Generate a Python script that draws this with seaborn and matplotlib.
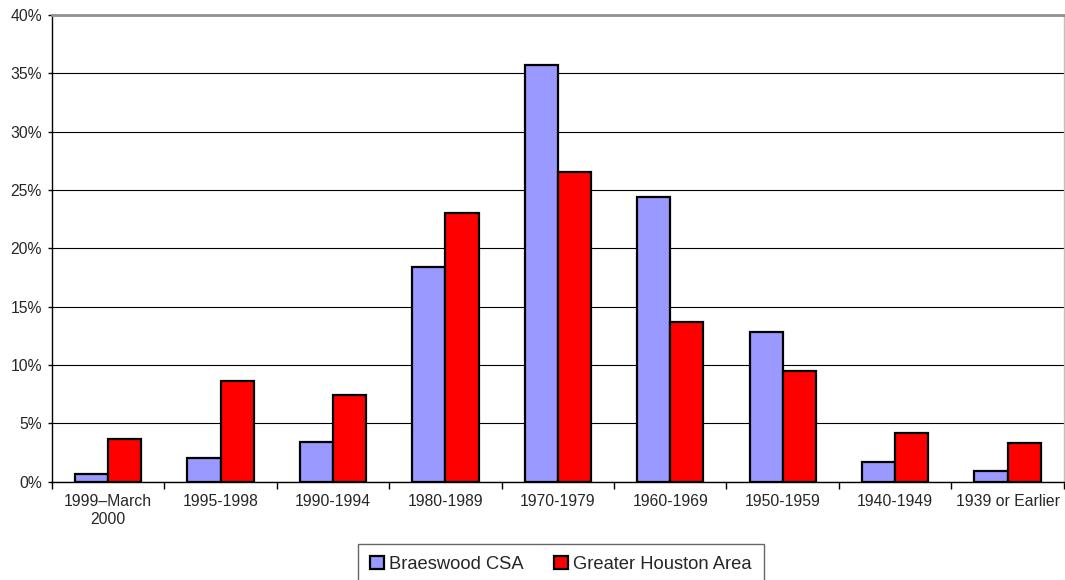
import pandas as pd
import matplotlib.pyplot as plt
import seaborn as sns
from matplotlib.ticker import FixedLocator, PercentFormatter

# Year structure built, share of housing units (%)
periods = ["1999\u2013March\n2000", "1995-1998", "1990-1994", "1980-1989", "1970-1979",
           "1960-1969", "1950-1959", "1940-1949", "1939 or Earlier"]
braeswood = [0.65, 2.0, 3.4, 18.4, 35.7, 24.4, 12.85, 1.7, 0.95]
houston = [3.7, 8.65, 7.4, 23.05, 26.5, 13.7, 9.45, 4.2, 3.3]
series = ["Braeswood CSA", "Greater Houston Area"]
colors = ["#9999ff", "#ff0000"]

df = pd.DataFrame({
    "Period": periods * 2,
    "Share": braeswood + houston,
    "Area": [series[0]] * len(periods) + [series[1]] * len(periods),
})

sns.set_style("white")
plt.rcParams["font.family"] = ["Liberation Sans", "DejaVu Sans"]

fig = plt.figure(figsize=(10.65, 5.8), dpi=100)
ax = fig.add_axes([0.0488, 0.1695, 0.950, 0.805])

sns.barplot(data=df, x="Period", y="Share", hue="Area", order=periods,
            hue_order=series, palette=colors, width=0.59, saturation=1,
            edgecolor="black", linewidth=1.6, ax=ax, zorder=3)

ax.set_ylim(0, 40)
ax.set_xlim(-0.5, len(periods) - 0.5)
ax.set_yticks(range(0, 41, 5))
ax.yaxis.set_major_formatter(PercentFormatter(decimals=0))
ax.grid(axis="y", color="black", linewidth=0.8, zorder=0)
ax.set_axisbelow(True)
ax.set_xlabel("")
ax.set_ylabel("")

# x ticks sit between categories
ax.tick_params(axis="x", which="major", length=0, labelsize=11.3, pad=9)
ax.xaxis.set_minor_locator(FixedLocator([i - 0.5 for i in range(len(periods) + 1)]))
ax.tick_params(axis="x", which="minor", length=5, width=1, color="black", bottom=True)
ax.tick_params(axis="y", length=3.2, width=1, color="black", labelsize=11.3, left=True, pad=4)

for side in ["left", "bottom"]:
    ax.spines[side].set_color("black")
    ax.spines[side].set_linewidth(1)
ax.spines["top"].set_color("#909090")
ax.spines["top"].set_linewidth(2)
ax.spines["right"].set_color("#c0c0c0")
ax.spines["right"].set_linewidth(1)

handles, labels = ax.get_legend_handles_labels()
ax.legend_.remove()
leg = fig.legend(handles, labels, loc="upper center", bbox_to_anchor=(0.5268, 0.062),
                 borderaxespad=0, ncol=2, frameon=True, fancybox=False, fontsize=13.2,
                 handlelength=0.75, handleheight=0.75, handletextpad=0.3,
                 columnspacing=1.64, borderpad=0.65)
leg.get_frame().set_edgecolor("#404040")
leg.get_frame().set_linewidth(1)

plt.savefig("out.png", dpi=100)
